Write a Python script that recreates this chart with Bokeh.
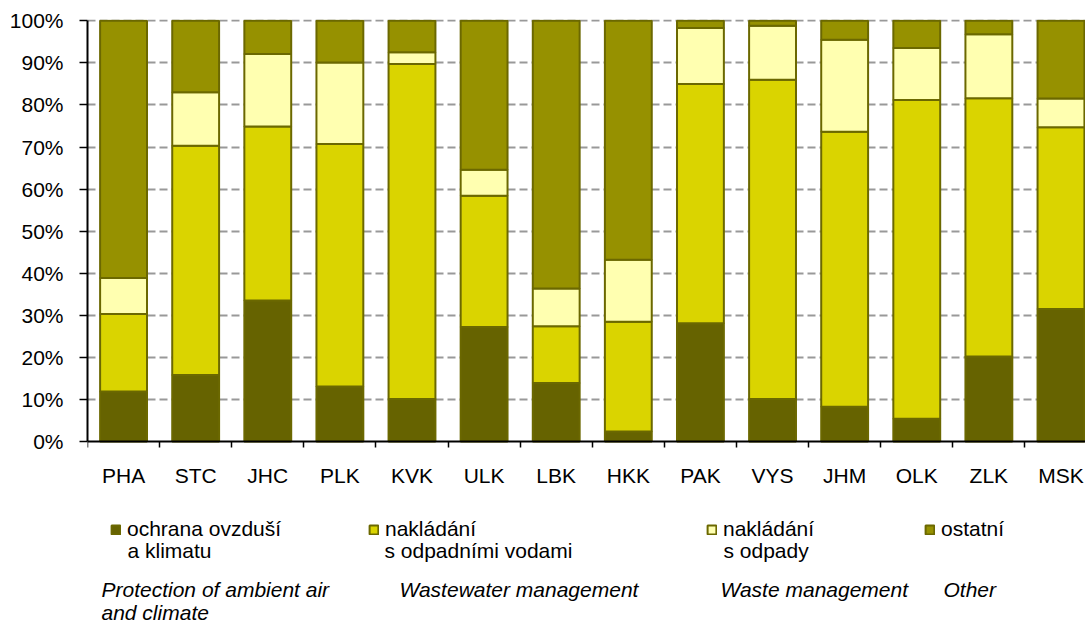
from bokeh.plotting import figure
from bokeh.models import (ColumnDataSource, Range1d, FixedTicker, PrintfTickFormatter,
                          Legend, LegendItem, Label)
from bokeh.embed import file_html
from bokeh.resources import INLINE

# ---------------- data ----------------
regions = ["PHA", "STC", "JHC", "PLK", "KVK", "ULK", "LBK",
           "HKK", "PAK", "VYS", "JHM", "OLK", "ZLK", "MSK"]
air = [11.9, 15.8, 33.5, 13.1, 10.1, 27.2, 13.9, 2.4, 28.1, 10.1, 8.3, 5.4, 20.2, 31.5]
water = [18.4, 54.5, 41.4, 57.6, 79.6, 31.2, 13.5, 26.1, 56.9, 75.9, 65.3, 75.8, 61.4, 43.2]
waste = [8.6, 12.7, 17.2, 19.4, 2.8, 6.2, 9.0, 14.7, 13.3, 12.8, 21.9, 12.3, 15.2, 6.8]
other = [61.1, 17.0, 7.9, 9.9, 7.5, 35.4, 63.6, 56.8, 1.7, 1.2, 4.5, 6.5, 3.2, 18.5]

series_keys = ["air", "water", "waste", "other"]
legend_line1 = ["ochrana ovzduší", "nakládání", "nakládání", "ostatní"]
legend_line2 = ["a klimatu", "s odpadními vodami", "s odpady", ""]
english_line1 = ["Protection of ambient air", "Wastewater management", "Waste management", "Other"]
english_line2 = ["and  climate", "", "", ""]
y_ticks = [0, 10, 20, 30, 40, 50, 60, 70, 80, 90, 100]

# ---------------- style / layout ----------------
colors = ["#666300", "#DAD400", "#FFFFB0", "#969100"]
outline = "#6B6800"
FONT = "Liberation Sans"
W, H = 1085, 623
LEFT, TOP = 87, 20            # frame left / top in page pixels
AXIS_Y = 441                  # page y of the 0 % line
X_END = 13.84
PX_Y = (AXIS_Y - TOP) / 100.0
Y_MIN = -(H - AXIS_Y) / PX_Y  # frame continues to the bottom so texts are not clipped
PX_X = (W - LEFT) / X_END
LABEL_SHIFT = 8               # measured offset of Label baselines


def dx(page_x):
    return (page_x - LEFT) / PX_X


def dy(page_y):
    return (AXIS_Y - (page_y - LABEL_SHIFT)) / PX_Y


swatch_x = [110, 368, 706, 924]        # page x of legend swatches
legend_item_top = 519                  # page y of legend item top
text_x = [127, 384, 723, 941]
eng_x = [101, 399, 720, 943]

xs = [i + 0.5 for i in range(len(regions))]
source = ColumnDataSource(dict(x=xs, air=air, water=water, waste=waste, other=other))

p = figure(width=W, height=H, x_range=Range1d(0, X_END), y_range=Range1d(Y_MIN, 100.3),
           output_backend="svg", toolbar_location=None,
           min_border_left=LEFT, min_border_top=TOP - 1, min_border_bottom=0,
           min_border_right=0)
p.outline_line_color = None
p.background_fill_color = "white"
p.border_fill_color = "white"

renderers = p.vbar_stack(series_keys, x="x", width=0.65, source=source,
                         fill_color=colors, line_color=outline, line_width=2)

# x axis, fixed at 0 %
xa = p.xaxis[0]
xa.fixed_location = 0
xa.ticker = FixedTicker(ticks=xs, minor_ticks=list(range(len(regions) + 1)))
xa.major_label_overrides = {x: r for x, r in zip(xs, regions)}
xa.major_tick_out = 0
xa.major_tick_in = 0
xa.minor_tick_out = 6
xa.minor_tick_in = 0
xa.minor_tick_line_color = "black"
xa.minor_tick_line_width = 1.5
xa.axis_line_color = "black"
xa.axis_line_width = 2
xa.major_label_text_font = FONT
xa.major_label_text_font_size = "21px"
xa.major_label_text_color = "black"
xa.major_label_standoff = 16

# y axis
ya = p.yaxis[0]
ya.bounds = (0, 100)
ya.ticker = FixedTicker(ticks=y_ticks, minor_ticks=[])
ya.formatter = PrintfTickFormatter(format="%d%%")
ya.major_tick_out = 8
ya.major_tick_in = 0
ya.major_tick_line_width = 1.5
ya.major_tick_line_color = "black"
ya.axis_line_color = "black"
ya.axis_line_width = 2
ya.major_label_text_font = FONT
ya.major_label_text_font_size = "21px"
ya.major_label_text_color = "black"
ya.major_label_standoff = 16

p.xgrid.visible = False
p.ygrid.ticker = FixedTicker(ticks=y_ticks[1:], minor_ticks=[])
p.ygrid.grid_line_color = "#999999"
p.ygrid.grid_line_dash = "8 4"
p.ygrid.grid_line_width = 2

# legends (one per series, placed below the bars)
for i, r in enumerate(renderers):
    leg = Legend(items=[LegendItem(label=legend_line1[i], renderers=[r])],
                 location=(swatch_x[i] - LEFT, H - (legend_item_top + 22)),
                 orientation="vertical", padding=0, margin=0, spacing=0,
                 glyph_width=11, glyph_height=11, label_height=22, label_standoff=6,
                 label_text_font=FONT, label_text_font_size="21px",
                 label_text_color="black",
                 border_line_color=None, background_fill_alpha=0)
    p.add_layout(leg, "center")
    if legend_line2[i]:
        p.add_layout(Label(x=dx(text_x[i]), y=dy(558), text=legend_line2[i],
                           text_font=FONT, text_font_size="21px", text_color="black",
                           text_baseline="alphabetic", text_align="left"))

for i in range(4):
    p.add_layout(Label(x=dx(eng_x[i]), y=dy(597), text=english_line1[i],
                       text_font=FONT, text_font_size="21px", text_font_style="italic",
                       text_color="black", text_baseline="alphabetic", text_align="left"))
    if english_line2[i]:
        p.add_layout(Label(x=dx(eng_x[i]), y=dy(620), text=english_line2[i],
                           text_font=FONT, text_font_size="21px", text_font_style="italic",
                           text_color="black", text_baseline="alphabetic", text_align="left"))

open("out.html", "w").write(file_html(p, INLINE))
